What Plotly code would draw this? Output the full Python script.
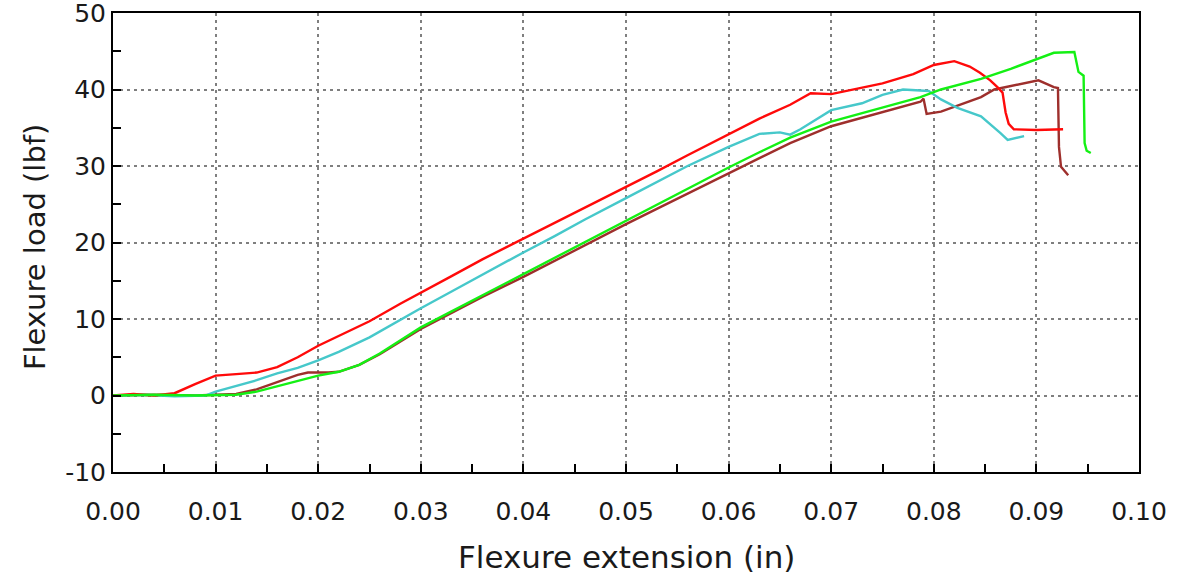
import plotly.graph_objects as go

# ---------------- data ----------------
red_x = [0.000, 0.002, 0.004, 0.006, 0.008, 0.010, 0.012, 0.014, 0.016, 0.018,
         0.020, 0.022, 0.025, 0.028, 0.030, 0.033, 0.036, 0.040, 0.043, 0.046,
         0.050, 0.053, 0.056, 0.060, 0.063, 0.066, 0.068, 0.070, 0.072, 0.075,
         0.078, 0.080, 0.082, 0.0835, 0.0845, 0.0855, 0.0862, 0.0867, 0.0870,
         0.0873, 0.0878, 0.0900, 0.0926]
red_y = [0.0, 0.2, 0.0, 0.3, 1.5, 2.6, 2.8, 3.0, 3.7, 5.0,
         6.5, 7.8, 9.7, 12.0, 13.4, 15.6, 17.8, 20.5, 22.5, 24.6,
         27.2, 29.3, 31.4, 34.2, 36.2, 38.0, 39.5, 39.4, 40.0, 40.8,
         42.0, 43.2, 43.7, 43.0, 42.2, 41.2, 40.3, 39.6, 37.0,
         35.5, 34.8, 34.7, 34.8]

cyan_x = [0.000, 0.003, 0.006, 0.009, 0.010, 0.012, 0.014, 0.016, 0.018, 0.020,
          0.022, 0.025, 0.028, 0.030, 0.033, 0.036, 0.040, 0.043, 0.046, 0.050,
          0.053, 0.056, 0.060, 0.063, 0.065, 0.066, 0.067, 0.070, 0.073, 0.075,
          0.077, 0.0795, 0.0807, 0.0823, 0.0846, 0.0856, 0.0865, 0.0872, 0.0883,
          0.0888]
cyan_y = [0.0, 0.1, -0.1, 0.0, 0.5, 1.2, 2.0, 2.9, 3.6, 4.6,
          5.7, 7.6, 9.9, 11.4, 13.6, 15.8, 18.7, 20.8, 23.0, 25.8,
          27.9, 30.0, 32.5, 34.2, 34.4, 34.1, 34.8, 37.3, 38.2, 39.3,
          40.0, 39.8, 38.7, 37.6, 36.5, 35.4, 34.3, 33.4, 33.7,
          33.9]

green_x = [0.000, 0.004, 0.008, 0.012, 0.014, 0.016, 0.018, 0.020, 0.022, 0.024,
           0.026, 0.028, 0.030, 0.033, 0.036, 0.040, 0.043, 0.046, 0.050, 0.053,
           0.056, 0.060, 0.063, 0.066, 0.070, 0.073, 0.0758, 0.0787, 0.0807, 0.0846,
           0.0875, 0.0902, 0.0917, 0.0937, 0.0941, 0.0946, 0.0947, 0.0949, 0.0953]
green_y = [0.0, 0.1, 0.0, 0.1, 0.5, 1.2, 2.0, 2.6, 3.1, 4.0,
           5.5, 7.2, 8.9, 11.0, 13.1, 15.8, 17.9, 20.0, 22.8, 24.9,
           27.0, 29.8, 31.8, 33.7, 35.8, 36.9, 37.9, 39.0, 40.0, 41.4,
           42.7, 44.1, 44.8, 44.9, 42.3, 41.8, 33.0, 32.0, 31.7]

brown_x = [0.000, 0.004, 0.008, 0.012, 0.014, 0.016, 0.018, 0.019, 0.021, 0.022,
           0.024, 0.026, 0.028, 0.030, 0.033, 0.036, 0.040, 0.043, 0.046, 0.050,
           0.053, 0.056, 0.060, 0.063, 0.066, 0.070, 0.0742, 0.0787, 0.0790, 0.0793,
           0.0807, 0.0826, 0.0846, 0.0859, 0.0885, 0.0902, 0.0917, 0.0921, 0.0922,
           0.0924, 0.0931]
brown_y = [0.0, 0.1, 0.0, 0.2, 0.8, 1.8, 2.7, 3.0, 3.0, 3.1,
           4.0, 5.4, 7.0, 8.7, 10.8, 12.9, 15.5, 17.6, 19.7, 22.4,
           24.4, 26.4, 29.0, 31.0, 33.0, 35.2, 36.7, 38.4, 38.8, 36.8,
           37.1, 38.0, 39.0, 40.0, 40.7, 41.2, 40.3, 40.2, 32.5,
           29.9, 28.8]

x_tick_vals = [0.00, 0.01, 0.02, 0.03, 0.04, 0.05, 0.06, 0.07, 0.08, 0.09, 0.10]
x_tick_text = ["0.00", "0.01", "0.02", "0.03", "0.04", "0.05", "0.06", "0.07", "0.08", "0.09", "0.10"]
y_tick_vals = [-10, 0, 10, 20, 30, 40, 50]
y_tick_text = ["-10", "0", "10", "20", "30", "40", "50"]

x_title = "Flexure extension (in)"
y_title = "Flexure load (lbf)"

# ---------------- figure ----------------
FONT = "DejaVu Sans"
TXT = "#1a1a1a"
fig = go.Figure()
series = [
    (brown_x, brown_y, "#9E2F2C"),
    (cyan_x, cyan_y, "#46C8CA"),
    (red_x, red_y, "#FF0A0A"),
    (green_x, green_y, "#14F014"),
]
for xs, ys, col in series:
    fig.add_trace(go.Scatter(x=xs, y=ys, mode="lines",
                             line=dict(color=col, width=2.4),
                             showlegend=False, hoverinfo="skip"))

axis_common = dict(
    showline=True, linecolor="black", linewidth=2, mirror=True,
    ticks="inside", ticklen=8, tickwidth=2, tickcolor="black",
    showgrid=True, gridcolor="#7f7f7f", gridwidth=2, griddash="3px,4px",
    zeroline=False, automargin=False, ticklabeloverflow="allow",
    tickfont=dict(family=FONT, size=25, color=TXT),
)

fig.update_xaxes(
    range=[0, 0.1], tickvals=x_tick_vals, ticktext=x_tick_text,
    minor=dict(dtick=0.005, ticks="inside", ticklen=8, tickwidth=2,
               tickcolor="black", showgrid=False),
    ticklabelstandoff=16,
    **axis_common,
)
fig.update_yaxes(
    range=[-10, 50], tickvals=y_tick_vals, ticktext=y_tick_text,
    minor=dict(dtick=5, ticks="inside", ticklen=8, tickwidth=2,
               tickcolor="black", showgrid=False),
    ticklabelstandoff=0,
    **axis_common,
)

# axis titles placed as paper-anchored text
fig.add_annotation(text=x_title, xref="paper", yref="paper", x=0.5, y=-0.185,
                   xanchor="center", yanchor="middle", showarrow=False,
                   font=dict(family=FONT, size=31, color=TXT))
fig.add_annotation(text=y_title, xref="paper", yref="paper", x=-0.076, y=0.49,
                   xanchor="center", yanchor="middle", showarrow=False, textangle=-90,
                   font=dict(family=FONT, size=29, color=TXT))

fig.update_layout(
    width=1180, height=579,
    margin=dict(l=113, r=41, t=13, b=107),
    paper_bgcolor="white", plot_bgcolor="white",
)

# remove the browser's default 8px body margin so the figure fills the window
fig.write_html("out.html",
               config={"displayModeBar": False},
               post_script="document.body.style.margin='0';document.body.style.overflow='hidden';")
